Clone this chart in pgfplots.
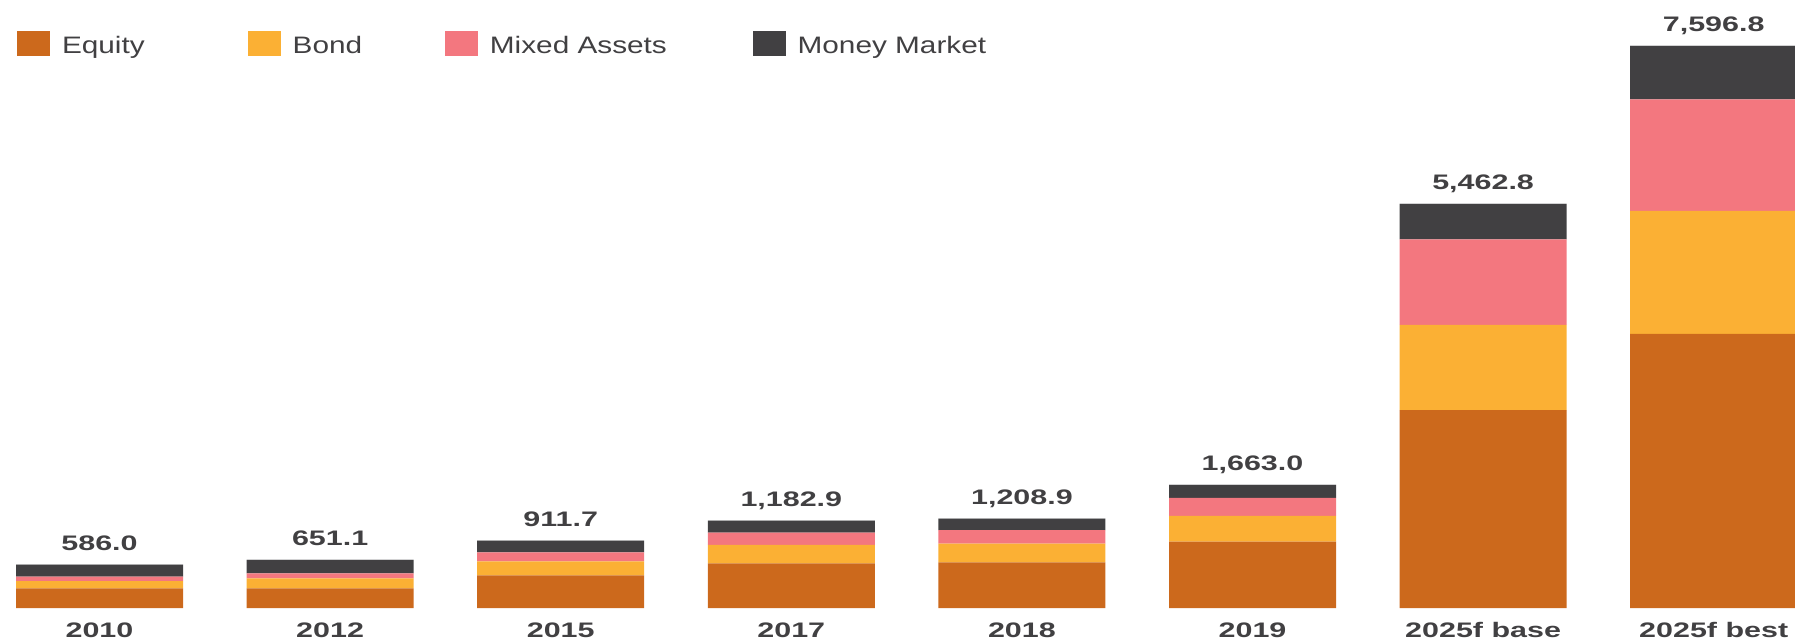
\documentclass[border=0pt]{standalone}
\usepackage{fontspec}
\setmainfont{Liberation Sans}[FakeStretch=1.25]
\newfontfamily\lblfont{Liberation Sans}[FakeStretch=1.45]
\usepackage{pgfplots}
\usepackage{pgfplotstable}
\pgfplotsset{compat=1.18}
\definecolor{cEq}{HTML}{CC691C}
\definecolor{cBd}{HTML}{FBB034}
\definecolor{cMx}{HTML}{F3777F}
\definecolor{cMm}{HTML}{414042}
\definecolor{txt}{HTML}{414042}

% z: a very thin top segment that carries the total labels
\pgfplotstableread{
x eq bd mx mm z label
0 266 96 64 160 0.01 586.0
1 266 133 69 183.1 0.01 651.1
2 442 187 123 159.7 0.01 911.7
3 603 251 164 164.9 0.01 1,182.9
4 616 253 184 155.9 0.01 1,208.9
5 898 346 246 173 0.01 1,663.0
6 2674 1154 1154 480.8 0.01 5,462.8
7 3705 1662 1507 722.8 0.01 7,596.8
}\funds

\begin{document}
\begin{tikzpicture}
\begin{axis}[
  scale only axis, width=897.5pt, height=304pt,
  xmin=-0.4315, xmax=7.3526, ymin=0, ymax=8218.5,
  clip=false,
  ybar stacked, bar width=83.5pt,
  axis line style={draw=none}, major tick length=0pt,
  ytick=\empty, xtick=data,
  xticklabels={2010,2012,2015,2017,2018,2019,2025f base,2025f best},
  xticklabel style={font=\lblfont\bfseries\fontsize{10.5}{12}\selectfont, text=txt, inner sep=0pt, anchor=north, yshift=-7pt},
  legend columns=-1,
  legend style={draw=none, fill=none, inner sep=0pt, outer sep=0pt,
    at={(0,1)}, anchor=north west, xshift=8.5pt, yshift=-15.5pt,
    font=\fontsize{11.9}{13}\selectfont, text=txt,
    nodes={inner sep=0pt},
    /tikz/column 1/.style={column sep=6pt},
    /tikz/column 2/.style={column sep=51.5pt},
    /tikz/column 3/.style={column sep=6pt},
    /tikz/column 4/.style={column sep=41.4pt},
    /tikz/column 5/.style={column sep=6pt},
    /tikz/column 6/.style={column sep=42.9pt},
    /tikz/column 7/.style={column sep=6pt}},
  legend image code/.code={\fill[#1,draw=none] (0pt,-4.75pt) rectangle (16.5pt,7.75pt);},
]
\addplot[fill=cEq, draw=none] table[x=x, y=eq] {\funds};
\addplot[fill=cBd, draw=none] table[x=x, y=bd] {\funds};
\addplot[fill=cMx, draw=none] table[x=x, y=mx] {\funds};
\addplot[fill=cMm, draw=none] table[x=x, y=mm] {\funds};
\addplot[fill=cMm, draw=none, forget plot, point meta=explicit symbolic,
  nodes near coords,
  nodes near coords style={font=\lblfont\bfseries\fontsize{10.5}{12}\selectfont, text=txt, anchor=base, inner sep=0pt, yshift=7pt}]
  table[x=x, y=z, meta=label] {\funds};
\legend{Equity, Bond, Mixed Assets, Money Market}
\end{axis}
\pgfresetboundingbox
\path[use as bounding box] (current axis.south west) ++(0pt,-16.5pt) rectangle (current axis.north east);
\end{tikzpicture}
\end{document}
